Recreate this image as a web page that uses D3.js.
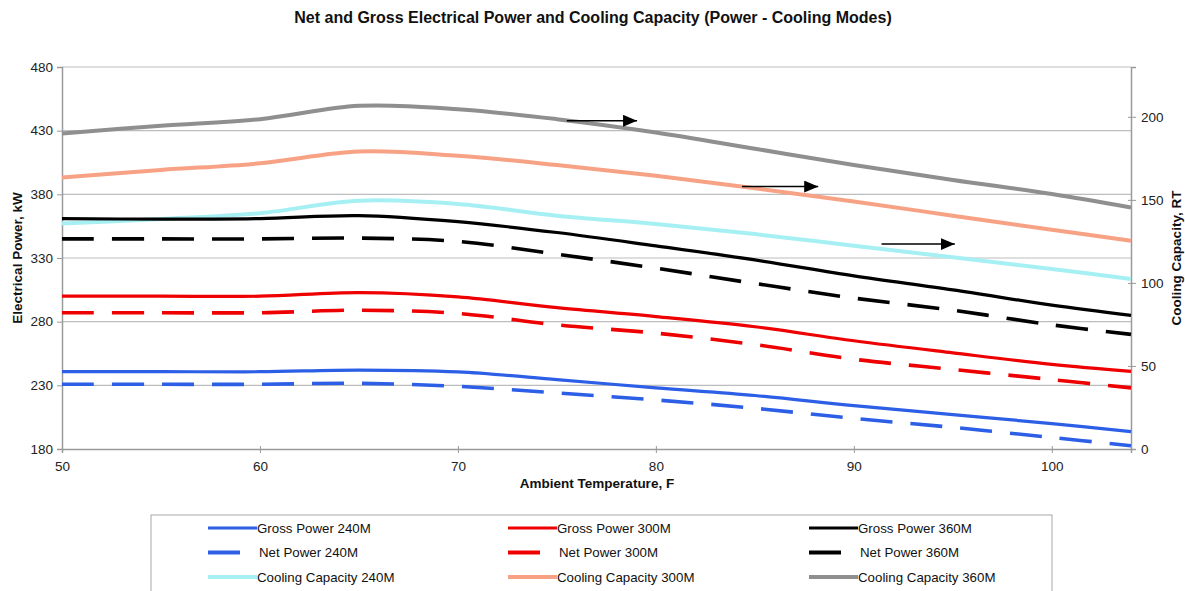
<!DOCTYPE html>
<html>
<head>
<meta charset="utf-8">
<script src="https://cdn.jsdelivr.net/npm/d3@7"></script>
<style>
  html, body { margin: 0; padding: 0; background: #fff; }
  svg { display: block; font-family: "Liberation Sans", Arial, sans-serif; }
</style>
</head>
<body>
<svg id="chart" width="1185" height="591"></svg>
<script>
// ---------- data ----------
const temps = [50, 55, 60, 65, 70, 75, 80, 85, 90, 95, 100, 104];

const grossPower240 = [240.7, 240.7, 240.7, 242, 240.5, 234.5, 228, 222, 214, 207, 200, 193.6];
const netPower240   = [230.8, 230.8, 230.8, 231.6, 229.2, 224, 218.5, 212, 204, 197, 189, 182.6];
const grossPower300 = [300, 300, 300, 302.8, 299.5, 291, 284, 276, 265, 255.5, 246.5, 241];
const netPower300   = [287, 287, 287, 289, 286.5, 277.5, 271, 262, 250.5, 242.5, 234.5, 228];
const grossPower360 = [361, 360.5, 361, 363.3, 358.5, 350, 339.5, 328.5, 316, 305, 293, 285];
const netPower360   = [345, 345, 345, 345.6, 343, 333, 322, 310, 298.5, 289, 277.5, 270];

const cooling240 = [135.8, 138.5, 142, 149.5, 147.5, 140.5, 135.5, 129.4, 122.4, 115.4, 108.4, 102.4];
const cooling300 = [163.5, 168, 172, 179.1, 176.5, 171, 164.5, 157, 149, 140.5, 132, 125.4];
const cooling360 = [190, 194.6, 198.6, 206.6, 204.6, 198.6, 190.6, 180.8, 171, 162, 153.5, 145.4];

const xTicks = [50, 60, 70, 80, 90, 100];
const leftTicks = [180, 230, 280, 330, 380, 430, 480];
const rightTicks = [0, 50, 100, 150, 200];

const seriesNames = [
  "Gross Power 240M", "Gross Power 300M", "Gross Power 360M",
  "Net Power 240M", "Net Power 300M", "Net Power 360M",
  "Cooling Capacity 240M", "Cooling Capacity 300M", "Cooling Capacity 360M"
];
const seriesValues = [
  grossPower240, grossPower300, grossPower360,
  netPower240, netPower300, netPower360,
  cooling240, cooling300, cooling360
];
const seriesAxis = ["left","left","left","left","left","left","right","right","right"];

// arrow annotations (x from, x to, right-axis value)
const arrowX1 = [75.5, 84.35, 91.4];
const arrowX2 = [79.05, 88.2, 95.1];
const arrowRT = [197.6, 158, 123.4];

// ---------- styles ----------
const colors = ["#2c5fe6", "#ee0000", "#000000",
                "#2c5fe6", "#ee0000", "#000000",
                "#a6f0f4", "#f7a285", "#8f8f8f"];
const widths = [3.2, 3.2, 3.2, 3.6, 3.6, 3.6, 4, 4, 4];
const dashes = [null, null, null, "32,18", "32,18", "32,18", null, null, null];

// ---------- layout ----------
const svg = d3.select("#chart");
const L = 62, R = 1131, T = 67, B = 449;

const x = d3.scaleLinear().domain([50, 104]).range([L, R]);
const yL = d3.scaleLinear().domain([180, 480]).range([B, T]);
const yR = d3.scaleLinear().domain([0, 230]).range([B, T]);

// gridlines
svg.append("g").selectAll("line").data(leftTicks.filter(d => d > 180)).join("line")
  .attr("x1", L).attr("x2", R)
  .attr("y1", d => yL(d)).attr("y2", d => yL(d))
  .attr("stroke", "#bdbdbd").attr("stroke-width", 1.2);

// axes
const axisColor = "#9a9a9a";
const gx = svg.append("g").attr("transform", `translate(0,${B})`)
  .call(d3.axisBottom(x).tickValues(xTicks).tickSize(4).tickPadding(8).tickFormat(d3.format("d")));
const gl = svg.append("g").attr("transform", `translate(${L},0)`)
  .call(d3.axisLeft(yL).tickValues(leftTicks).tickSize(5).tickPadding(4).tickFormat(d3.format("d")));
const gr = svg.append("g").attr("transform", `translate(${R},0)`)
  .call(d3.axisRight(yR).tickValues(rightTicks).tickSize(5).tickPadding(5).tickFormat(d3.format("d")));

[gx, gl, gr].forEach(g => {
  g.select(".domain").attr("stroke", axisColor).attr("stroke-width", 1.5);
  g.selectAll(".tick line").attr("stroke", axisColor);
  g.selectAll(".tick text").attr("fill", "#222").style("font-size", "13.5px")
    .style("font-family", "'Liberation Sans', Arial, sans-serif");
});
gx.selectAll(".tick line").attr("y1", -3);
gr.selectAll(".tick line").attr("x1", -3);

// lines
const lineL = d3.line().x((d, i) => x(temps[i])).y(d => yL(d)).curve(d3.curveCatmullRom.alpha(0.5));
const lineR = d3.line().x((d, i) => x(temps[i])).y(d => yR(d)).curve(d3.curveCatmullRom.alpha(0.5));

const drawOrder = [8, 7, 6, 2, 5, 1, 4, 0, 3];
drawOrder.forEach(k => {
  svg.append("path")
    .attr("d", (seriesAxis[k] === "left" ? lineL : lineR)(seriesValues[k]))
    .attr("fill", "none")
    .attr("stroke", colors[k])
    .attr("stroke-width", widths[k])
    .attr("stroke-dasharray", dashes[k])
    .attr("stroke-linejoin", "round");
});

// arrows
svg.append("defs").append("marker")
  .attr("id", "ah").attr("viewBox", "0 0 14 12").attr("refX", 14).attr("refY", 6)
  .attr("markerWidth", 14).attr("markerHeight", 12).attr("markerUnits", "userSpaceOnUse")
  .attr("orient", "auto")
  .append("path").attr("d", "M0,0 L14,6 L0,12 Z").attr("fill", "#000");

arrowX1.forEach((a, i) => {
  svg.append("line")
    .attr("x1", x(a)).attr("x2", x(arrowX2[i]))
    .attr("y1", yR(arrowRT[i])).attr("y2", yR(arrowRT[i]))
    .attr("stroke", "#000").attr("stroke-width", 1.5)
    .attr("marker-end", "url(#ah)");
});

// title
svg.append("text").attr("x", 593).attr("y", 23).attr("text-anchor", "middle")
  .style("font-size", "16px").style("font-weight", "bold").attr("fill", "#111")
  .text("Net and Gross Electrical Power and Cooling Capacity (Power - Cooling Modes)");

// axis titles
svg.append("text").attr("x", 597).attr("y", 488).attr("text-anchor", "middle")
  .style("font-size", "13.5px").style("font-weight", "bold").attr("fill", "#111")
  .text("Ambient Temperature, F");
svg.append("text").attr("transform", `translate(22,${(T + B) / 2}) rotate(-90)`)
  .attr("text-anchor", "middle")
  .style("font-size", "13.5px").style("font-weight", "bold").attr("fill", "#111")
  .text("Electrical Power, kW");
svg.append("text").attr("transform", `translate(1181,${(T + B) / 2}) rotate(-90)`)
  .attr("text-anchor", "middle")
  .style("font-size", "13.5px").style("font-weight", "bold").attr("fill", "#111")
  .text("Cooling Capacity, RT");

// legend
svg.append("rect").attr("x", 151).attr("y", 515).attr("width", 901).attr("height", 100)
  .attr("fill", "#fff").attr("stroke", "#a8a8a8").attr("stroke-width", 1);

const legCols = [208, 508, 809];
const legRows = [528, 552.5, 577];
seriesNames.forEach((name, k) => {
  const col = k % 3, row = Math.floor(k / 3);
  const x0 = legCols[col], yy = legRows[row];
  const isNet = row === 1;
  svg.append("line")
    .attr("x1", x0).attr("x2", x0 + (isNet ? 32 : 49))
    .attr("y1", yy).attr("y2", yy)
    .attr("stroke", colors[k]).attr("stroke-width", isNet ? 4 : widths[k]);
  svg.append("text")
    .attr("x", x0 + (isNet ? 51 : 49)).attr("y", yy + 4.5)
    .style("font-size", "13.3px").attr("fill", "#111")
    .text(name);
});
</script>
</body>
</html>
